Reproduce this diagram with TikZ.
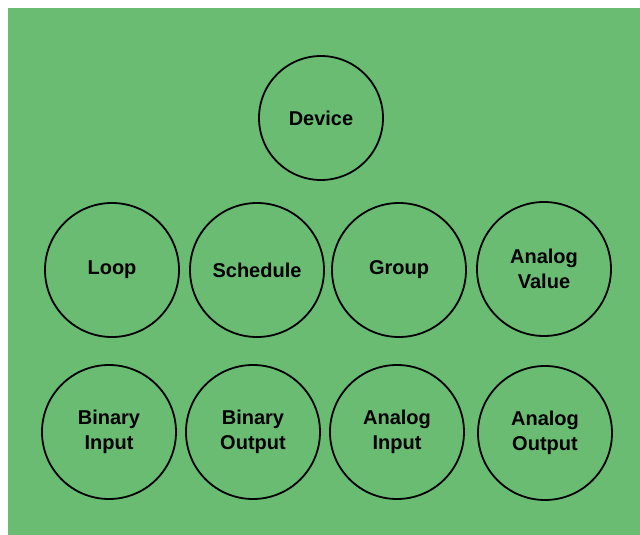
\documentclass[tikz,border=0pt]{standalone}
\usepackage{fontspec}
\setmainfont{Liberation Sans}
\definecolor{bggreen}{RGB}{106,188,114}
\tikzset{
  obj/.style={circle, draw=black, line width=1.8pt, minimum size=134pt, inner sep=0pt,
    align=center, font=\bfseries\fontsize{20}{25}\selectfont},
}
\begin{document}
\begin{tikzpicture}[x=1pt,y=-1pt]
\useasboundingbox (0,0) rectangle (640,535);
\fill[white] (0,0) rectangle (640,535);
\fill[bggreen] (8,8) rectangle (640,535);
\node[obj, minimum size=124pt] (device) at (321,118) {Device};
\node[obj] (loop) at (112,270) {Loop};
\node[obj] (schedule) at (257,270) {Schedule};
\node[obj] (group) at (399,270) {Group};
\node[obj] (avalue) at (544,269) {Analog\\Value};
\node[obj] (binput) at (109,432) {Binary\\Input};
\node[obj] (boutput) at (253,432) {Binary\\Output};
\node[obj] (ainput) at (397,432) {Analog\\Input};
\node[obj] (aoutput) at (545,433) {Analog\\Output};
\end{tikzpicture}
\end{document}
